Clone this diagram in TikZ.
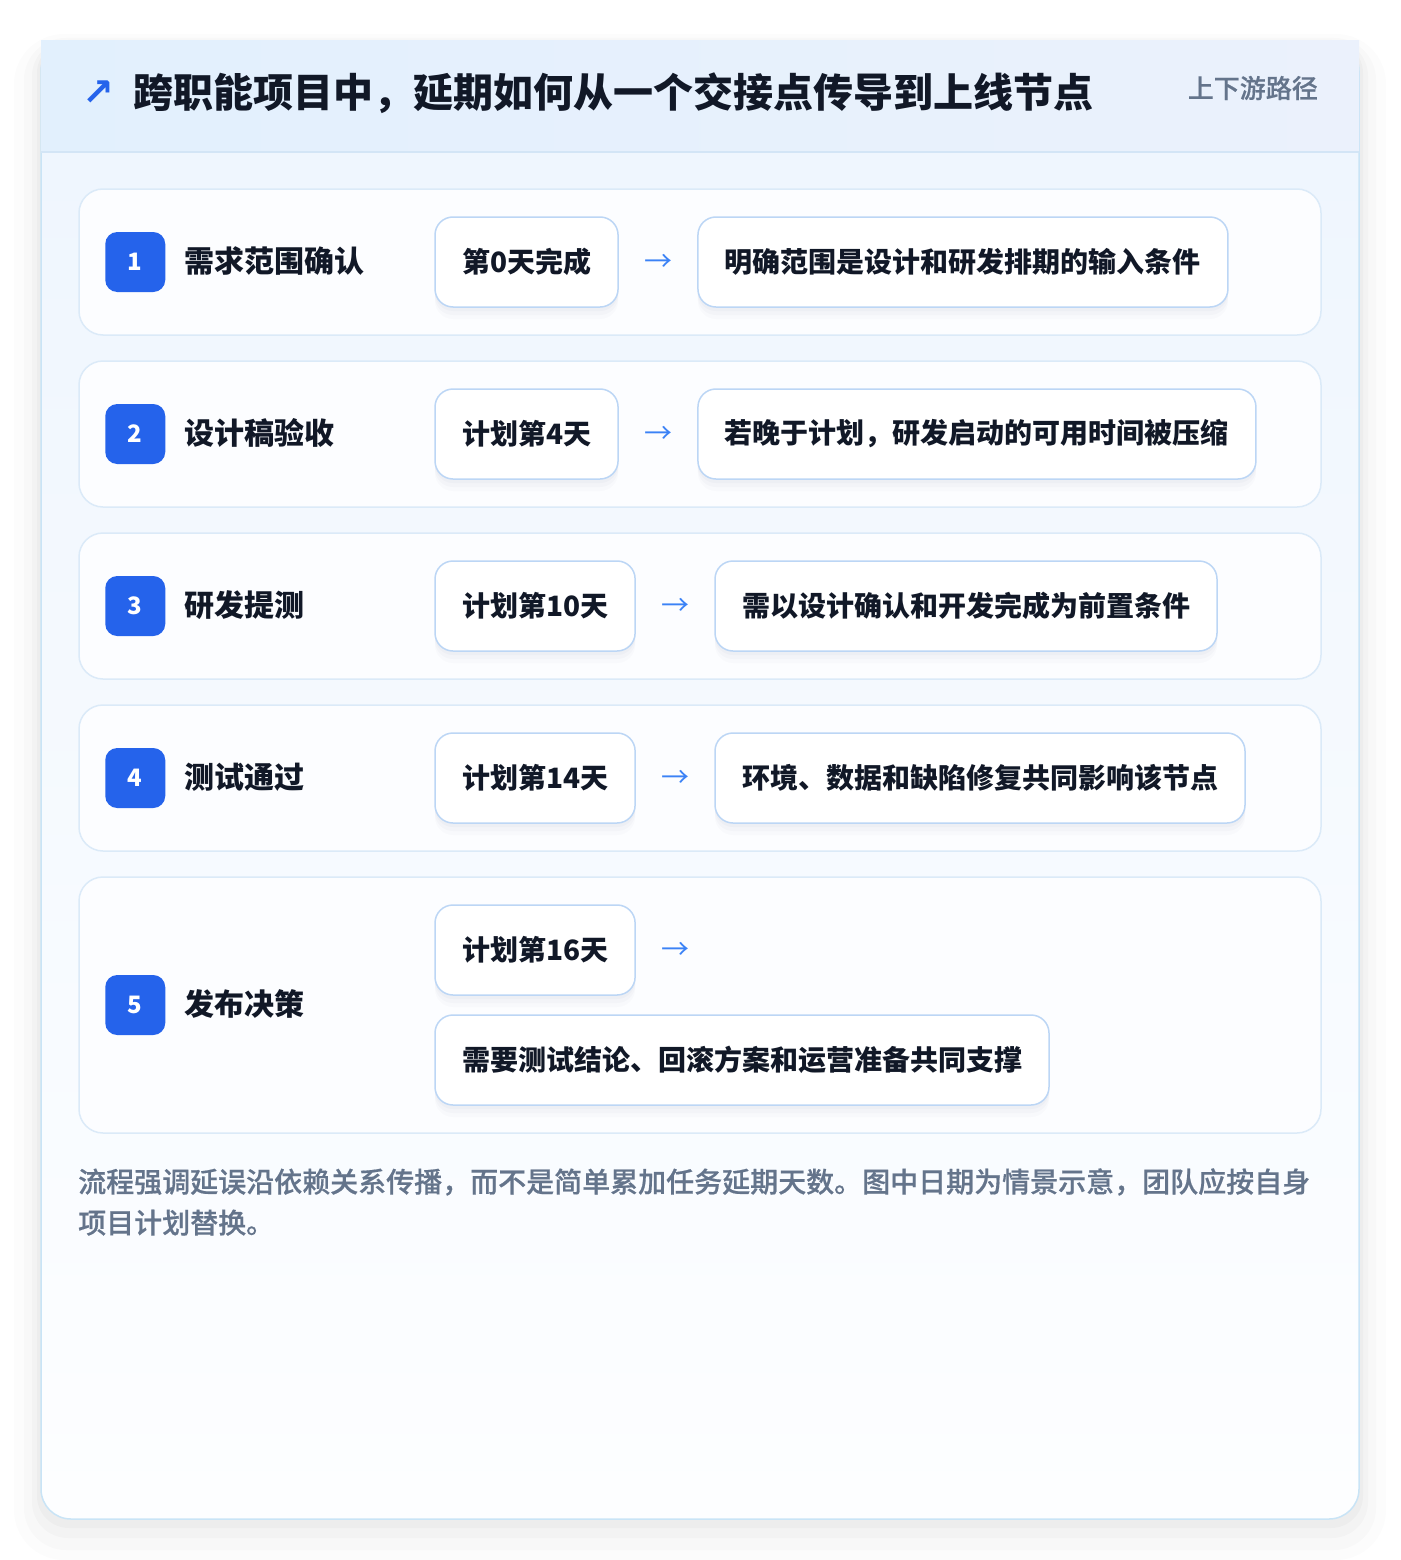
\documentclass[tikz,border=0pt]{standalone}
\usepackage{fontspec}
\setmainfont{Noto Sans CJK SC}
\newfontfamily\medfont{Noto Sans CJK SC Medium}[FakeBold=0.5]
\newfontfamily\symfont{DejaVu Sans}
\usetikzlibrary{calc}

\definecolor{cardline}{HTML}{C9E4F6}
\definecolor{headA}{HTML}{E2F0FD}
\definecolor{headB}{HTML}{EBF1FC}
\definecolor{headline}{HTML}{D3E5F6}
\definecolor{bodyA}{HTML}{EFF6FE}
\definecolor{bodyB}{HTML}{FDFEFF}
\definecolor{rowline}{HTML}{DBEAF8}
\definecolor{rowfill}{HTML}{FCFDFF}
\definecolor{pillline}{HTML}{BCD6F5}
\definecolor{badgeblue}{HTML}{2563EB}
\definecolor{flowblue}{HTML}{3B82F6}
\definecolor{ink}{HTML}{111827}
\definecolor{muted}{HTML}{64748B}
\definecolor{shadowc}{HTML}{64748B}

\tikzset{
  rowcard/.style={draw=rowline,line width=1.5pt,fill=rowfill,rounded corners=24pt,minimum width=1242pt},
  badge/.style={fill=badgeblue,rounded corners=12pt,minimum size=60pt,inner sep=0pt,text=white,font=\fontsize{24}{28}\selectfont\bfseries},
  rowtitle/.style={anchor=west,inner sep=0pt,text=ink,font=\fontsize{30}{36}\selectfont\bfseries},
  pill/.style={draw=pillline,line width=1.5pt,fill=white,rounded corners=18pt,minimum height=90pt,inner xsep=27pt,anchor=west,text=ink,font=\fontsize{28}{34}\selectfont\bfseries,
    preaction={fill=shadowc,fill opacity=.025,transform canvas={yshift=-12pt}},
    preaction={fill=shadowc,fill opacity=.03,transform canvas={yshift=-8pt}},
    preaction={fill=shadowc,fill opacity=.035,transform canvas={yshift=-4pt}}},
  flow/.style={anchor=west,inner sep=0pt,text=flowblue,font=\fontsize{28}{34}\selectfont},
}

\begin{document}
\begin{tikzpicture}[x=1pt,y=-1pt]
\useasboundingbox (0,0) rectangle (1400,1560);
\fill[white] (0,0) rectangle (1400,1560);

% card shadow
\fill[black,fill opacity=.012,rounded corners=50pt] (14,34) rectangle (1386,1560);
\fill[black,fill opacity=.016,rounded corners=42pt] (24,38) rectangle (1376,1550);
\fill[black,fill opacity=.02,rounded corners=36pt] (32,40) rectangle (1368,1538);
\fill[black,fill opacity=.024,rounded corners=32pt] (37,41) rectangle (1363,1528);

% card
\fill[white,rounded corners=30pt] (41,41) rectangle (1359,1519);
\begin{scope}
\clip[rounded corners=30pt] (41,41) rectangle (1359,1519);
\shade[top color=bodyA,bottom color=bodyB] (41,152) rectangle (1359,1519);
\end{scope}
\draw[cardline,line width=1.5pt,rounded corners=30pt] (41,41) rectangle (1359,1519);
\shade[left color=headA,right color=headB] (41,41) rectangle (1359,152);
\draw[headline,line width=1.5pt] (41,152) -- (1359,152);

% header
\draw node [text=badgeblue,inner sep=0pt,font=\symfont\bfseries\fontsize{38}{42}\selectfont] (icon) at (98,93) {↗};
\draw node [anchor=west,inner sep=0pt,text=ink,font=\fontsize{40}{48}\selectfont\bfseries] (title) at (133,93) {跨职能项目中，延期如何从一个交接点传导到上线节点};
\draw node [anchor=east,inner sep=0pt,text=muted,font=\medfont\fontsize{26}{30}\selectfont] (tag) at (1318,88) {上下游路径};

% row 1
\draw node [rowcard,minimum height=146pt] (row1) at (700,262) {};
\draw node [badge] (b1) at ($ (row1.west)+(57,0) $) {1};
\draw node [rowtitle] (t1) at ($ (row1.west)+(106,-1) $) {需求范围确认};
\draw node [pill] (p1a) at ($ (row1.west)+(356,0) $) {第0天完成};
\draw node [flow] (f1) at ($ (p1a.east)+(25,1) $) {→};
\draw node [pill] (p1b) at ($ (f1.east)+(25,-1) $) {明确范围是设计和研发排期的输入条件};

% row 2
\draw node [rowcard,minimum height=146pt] (row2) at (700,434) {};
\draw node [badge] (b2) at ($ (row2.west)+(57,0) $) {2};
\draw node [rowtitle] (t2) at ($ (row2.west)+(106,-1) $) {设计稿验收};
\draw node [pill] (p2a) at ($ (row2.west)+(356,0) $) {计划第4天};
\draw node [flow] (f2) at ($ (p2a.east)+(25,1) $) {→};
\draw node [pill] (p2b) at ($ (f2.east)+(25,-1) $) {若晚于计划，研发启动的可用时间被压缩};

% row 3
\draw node [rowcard,minimum height=146pt] (row3) at (700,606) {};
\draw node [badge] (b3) at ($ (row3.west)+(57,0) $) {3};
\draw node [rowtitle] (t3) at ($ (row3.west)+(106,-1) $) {研发提测};
\draw node [pill] (p3a) at ($ (row3.west)+(356,0) $) {计划第10天};
\draw node [flow] (f3) at ($ (p3a.east)+(25,1) $) {→};
\draw node [pill] (p3b) at ($ (f3.east)+(25,-1) $) {需以设计确认和开发完成为前置条件};

% row 4
\draw node [rowcard,minimum height=146pt] (row4) at (700,778) {};
\draw node [badge] (b4) at ($ (row4.west)+(57,0) $) {4};
\draw node [rowtitle] (t4) at ($ (row4.west)+(106,-1) $) {测试通过};
\draw node [pill] (p4a) at ($ (row4.west)+(356,0) $) {计划第14天};
\draw node [flow] (f4) at ($ (p4a.east)+(25,1) $) {→};
\draw node [pill] (p4b) at ($ (f4.east)+(25,-1) $) {环境、数据和缺陷修复共同影响该节点};

% row 5
\draw node [rowcard,minimum height=256pt] (row5) at (700,1005) {};
\draw node [badge] (b5) at ($ (row5.west)+(57,0) $) {5};
\draw node [rowtitle] (t5) at ($ (row5.west)+(106,-1) $) {发布决策};
\draw node [pill] (p5a) at ($ (row5.west)+(356,-55) $) {计划第16天};
\draw node [flow] (f5) at ($ (p5a.east)+(25,1) $) {→};
\draw node [pill] (p5b) at ($ (row5.west)+(356,55) $) {需要测试结论、回滚方案和运营准备共同支撑};

% note
\draw node [anchor=west,inner sep=0pt,align=left,text=muted,font=\medfont\fontsize{28}{41}\selectfont] (note) at (78,1202) {流程强调延误沿依赖关系传播，而不是简单累加任务延期天数。图中日期为情景示意，团队应按自身\\项目计划替换。};

\end{tikzpicture}
\end{document}
